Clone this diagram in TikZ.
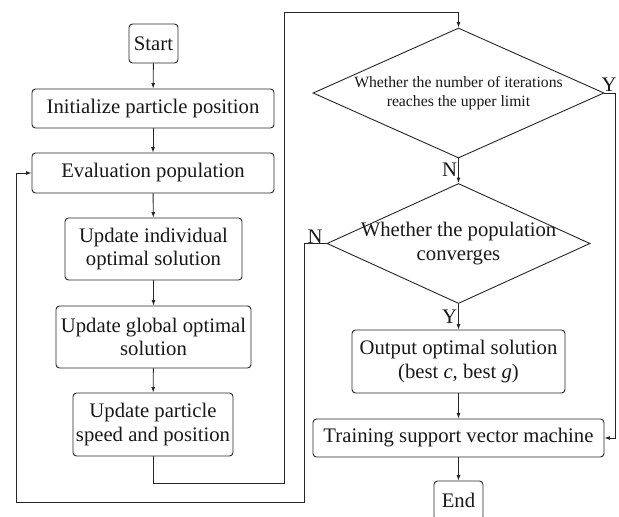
\documentclass[tikz,border=0pt]{standalone}
\usepackage{fontspec}
\setmainfont{Liberation Serif}
\usetikzlibrary{arrows.meta,shapes.geometric}
\begin{document}
\begin{tikzpicture}[x=1pt,y=-1pt,
  every node/.style={font=\fontsize{20.7}{23.5}\selectfont, text=black!90},
  line/.style={draw=black!85, line width=0.9pt},
  arr/.style={line, -{Latex[length=5.5pt,width=4pt]}},
  box/.style={line, rounded corners=3.5pt, align=center, inner sep=0pt, fill=white},
  dia/.style={line, shape=diamond, inner sep=0pt},
  lbl/.style={inner sep=1pt}]
\useasboundingbox (0,0) rectangle (619,517);
\clip (0,0) rectangle (619,517);
\fill[white] (0,0) rectangle (619,517);

% left column
\node[box, minimum width=49pt, minimum height=39pt] (start) at (153.5,43.5) {Start};
\node[box, minimum width=242pt, minimum height=39pt] (init) at (153,108.5) {Initialize particle position};
\node[box, minimum width=242pt, minimum height=40pt] (eval) at (153,173) {Evaluation population};
\node[box, minimum width=177pt, minimum height=62pt] (indiv) at (153.5,249) {Update individual\\optimal solution};
\node[box, minimum width=195pt, minimum height=62pt] (glob) at (153.5,337) {Update global optimal\\solution};
\node[box, minimum width=160pt, minimum height=63pt] (speed) at (153,424.5) {Update particle\\speed and position};

% right column
\node[dia, minimum width=291pt, minimum height=130pt,
  label={[font=\fontsize{15.7}{19.5}\selectfont, align=center, text=black!90]center:Whether the number of iterations\\reaches the upper limit}] (d1) at (458.5,93) {};
\node[dia, minimum width=263pt, minimum height=120pt,
  label={[align=center, text=black!90]center:Whether the population\\converges}] (d2) at (458.5,243.5) {};
\node[box, minimum width=213pt, minimum height=63pt] (out) at (458.5,361.5) {Output optimal solution\\(best \textit{c}, best \textit{g})};
\node[box, minimum width=291pt, minimum height=38pt] (train) at (458.5,438) {Training support vector machine};
\node[box, minimum width=49pt, minimum height=39pt] (end) at (458.5,500.5) {End};

% helper coordinates
\coordinate (a1) at (284,483);
\coordinate (a2) at (284,12);
\coordinate (r1) at (615,93);
\coordinate (l1) at (304,502);
\coordinate (l2) at (16,502);

% connectors
\draw[arr] (start) -- (init);
\draw[arr] (init) -- (eval);
\draw[arr] (eval) -- (indiv);
\draw[arr] (indiv) -- (glob);
\draw[arr] (glob) -- (speed);
\draw[arr] (speed.south) |- (a1) -- (a2) -| (d1.north);
\draw[arr] (d1.south) -- (d2.north) node[lbl, pos=0.45, left] {N};
\draw[arr] (d1.east) -- (r1) |- (train.east);
\node[lbl, anchor=south] at (609,93) {Y};
\draw[arr] (d2.west) -| (l1) -- (l2) |- (eval.west);
\node[lbl, anchor=south] at (315,245) {N};
\draw[arr] (d2.south) -- (out.north) node[lbl, pos=0.5, left] {Y};
\draw[arr] (out) -- (train);
\draw[arr] (train) -- (end);
\end{tikzpicture}
\end{document}
